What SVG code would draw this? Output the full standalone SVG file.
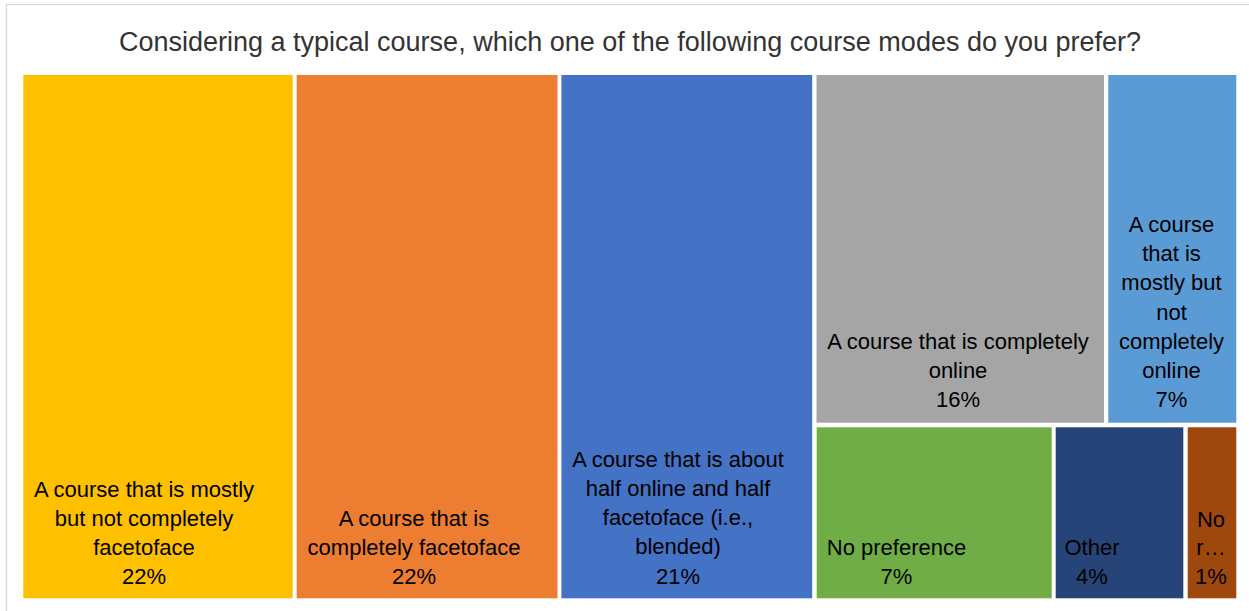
<svg xmlns="http://www.w3.org/2000/svg" width="1249" height="611" viewBox="0 0 1249 611">
<style>
.lbl{font-family:"Liberation Sans",Arial,sans-serif;font-size:22px;fill:#000;text-anchor:middle}
.ttl{font-family:"Liberation Sans",Arial,sans-serif;font-size:27px;fill:#333;text-anchor:middle}
</style>
<rect x="0" y="0" width="1249" height="611" fill="#fff"/>
<rect x="6.5" y="4.5" width="1260" height="620" fill="#fff" stroke="#d9d9d9" stroke-width="1.3"/>
<text class="ttl" x="630" y="51">Considering a typical course, which one of the following course modes do you prefer?</text>
<g id="mostly-f2f">
<rect x="23.3" y="75" width="269.4" height="523.3" fill="#FFC000"/>
<text class="lbl" x="144" y="497">A course that is mostly</text>
<text class="lbl" x="144" y="526">but not completely</text>
<text class="lbl" x="144" y="555">facetoface</text>
<text class="lbl" x="144" y="584">22%</text>
</g>
<g id="complete-f2f">
<rect x="296.7" y="75" width="260.8" height="523.3" fill="#ED7D31"/>
<text class="lbl" x="414" y="526">A course that is</text>
<text class="lbl" x="414" y="555">completely facetoface</text>
<text class="lbl" x="414" y="584">22%</text>
</g>
<g id="blended">
<rect x="561.4" y="75" width="250.8" height="523.3" fill="#4472C4"/>
<text class="lbl" x="678" y="466.5">A course that is about</text>
<text class="lbl" x="678" y="495.7">half online and half</text>
<text class="lbl" x="678" y="525">facetoface (i.e.,</text>
<text class="lbl" x="678" y="554.2">blended)</text>
<text class="lbl" x="678" y="583.5">21%</text>
</g>
<g id="complete-online">
<rect x="816.5" y="75" width="287.5" height="347.7" fill="#A5A5A5"/>
<text class="lbl" x="958" y="349">A course that is completely</text>
<text class="lbl" x="958" y="378">online</text>
<text class="lbl" x="958" y="407">16%</text>
</g>
<g id="mostly-online">
<rect x="1108.3" y="75" width="128" height="347.7" fill="#5B9BD5"/>
<text class="lbl" x="1171.5" y="232">A course</text>
<text class="lbl" x="1171.5" y="261">that is</text>
<text class="lbl" x="1171.5" y="290.3">mostly but</text>
<text class="lbl" x="1171.5" y="319.5">not</text>
<text class="lbl" x="1171.5" y="348.8">completely</text>
<text class="lbl" x="1171.5" y="378">online</text>
<text class="lbl" x="1171.5" y="407">7%</text>
</g>
<g id="no-preference">
<rect x="816.7" y="427.3" width="235" height="171" fill="#70AD47"/>
<text class="lbl" x="896.5" y="555">No preference</text>
<text class="lbl" x="896.5" y="584">7%</text>
</g>
<g id="other">
<rect x="1055.7" y="427.3" width="127.6" height="171" fill="#264478"/>
<text class="lbl" x="1092" y="555">Other</text>
<text class="lbl" x="1092" y="584">4%</text>
</g>
<g id="no-response">
<rect x="1187.7" y="427.3" width="48.6" height="171" fill="#9E480E"/>
<text class="lbl" x="1211" y="526.5">No</text>
<text class="lbl" x="1211" y="555">r…</text>
<text class="lbl" x="1211" y="584">1%</text>
</g>
<g id="connectors"/>
</svg>
